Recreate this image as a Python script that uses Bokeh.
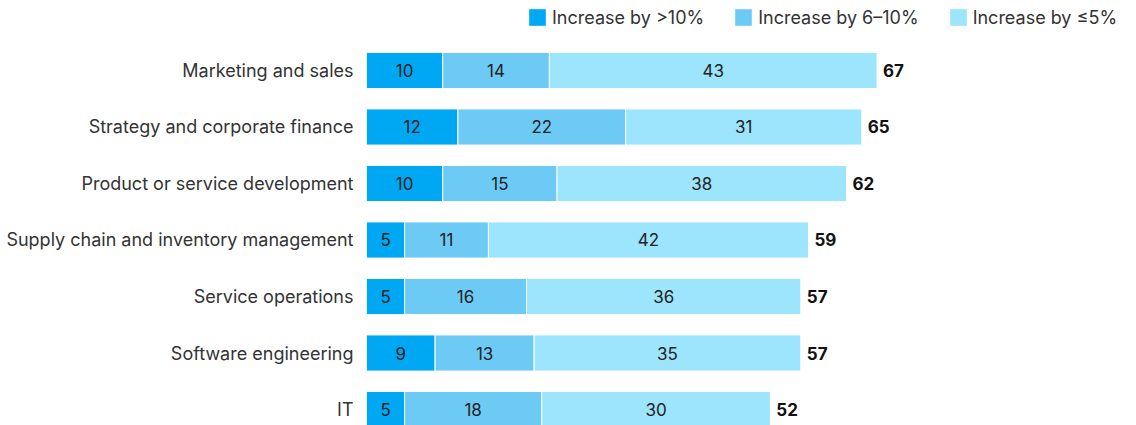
import numpy as np
from bokeh.plotting import figure
from bokeh.models import ColumnDataSource, Range1d, FixedTicker, Legend, LegendItem, LabelSet
from bokeh.core.properties import value
from bokeh.embed import file_html
from bokeh.resources import INLINE

categories = ["Marketing and sales", "Strategy and corporate finance", "Product or service development",
              "Supply chain and inventory management", "Service operations", "Software engineering", "IT"]
gt10 = [10, 12, 10, 5, 5, 9, 5]
six_ten = [14, 22, 15, 11, 16, 13, 18]
le5 = [43, 31, 38, 42, 36, 35, 30]
totals = [67, 65, 62, 59, 57, 57, 52]
series_names = ["Increase by >10%", "Increase by 6\u201310%", "Increase by \u22645%"]
colors = ["#00a8f3", "#6dcaf5", "#9de4fd"]

n = len(categories)
ypos = np.arange(n, 0, -1).astype(float)
vals = np.array([gt10, six_ten, le5], dtype=float)
ends = np.cumsum(vals, axis=0)
starts = ends - vals

FONT = "Inter"
FS = "17px"
FS_LAB = "18px"

p = figure(width=1128, height=425, x_range=Range1d(0, 100), y_range=Range1d(0.717, 8.097),
           output_backend="svg", toolbar_location=None,
           min_border_left=366, min_border_right=0, min_border_top=8, min_border_bottom=0)
p.xaxis.visible = False
p.xgrid.visible = False
p.ygrid.visible = False
p.outline_line_color = None

renderers = []
for i in range(3):
    src = ColumnDataSource(dict(y=ypos, left=starts[i], right=ends[i],
                                mid=(starts[i] + ends[i]) / 2, lab=[str(int(v)) for v in vals[i]]))
    r = p.hbar(y="y", left="left", right="right", height=0.64, source=src,
               fill_color=colors[i], line_color="white", line_width=1)
    renderers.append(r)
    p.add_layout(LabelSet(x="mid", y="y", text="lab", source=src, text_align="center",
                          text_baseline="middle", text_font=value(FONT), text_font_size=value(FS),
                          text_color="#222222"))

tsrc = ColumnDataSource(dict(y=ypos, x=ends[2], lab=[str(t) for t in totals]))
p.add_layout(LabelSet(x="x", y="y", text="lab", source=tsrc, x_offset=6, text_align="left",
                      text_baseline="middle", text_font=value(FONT), text_font_size=value(FS),
                      text_font_style="bold", text_color="#111111"))

p.yaxis.ticker = FixedTicker(ticks=list(ypos))
p.yaxis.major_label_overrides = {float(y): c for y, c in zip(ypos, categories)}
p.yaxis.axis_line_color = None
p.yaxis.major_tick_line_color = None
p.yaxis.minor_tick_line_color = None
p.yaxis.major_label_standoff = 7
p.yaxis.major_label_text_font = FONT
p.yaxis.major_label_text_font_size = FS_LAB
p.yaxis.major_label_text_color = "#333333"

legend = Legend(items=[LegendItem(label=series_names[i], renderers=[renderers[i]]) for i in range(3)],
                orientation="horizontal", location=(160, 397), margin=0, padding=0,
                spacing=28, glyph_width=22, glyph_height=22, label_standoff=4, label_height=22,
                label_text_font=FONT, label_text_font_size=FS_LAB, label_text_color="#333333",
                border_line_color=None, background_fill_alpha=0)
p.add_layout(legend, "center")

open("out.html", "w").write(file_html(p, INLINE))
